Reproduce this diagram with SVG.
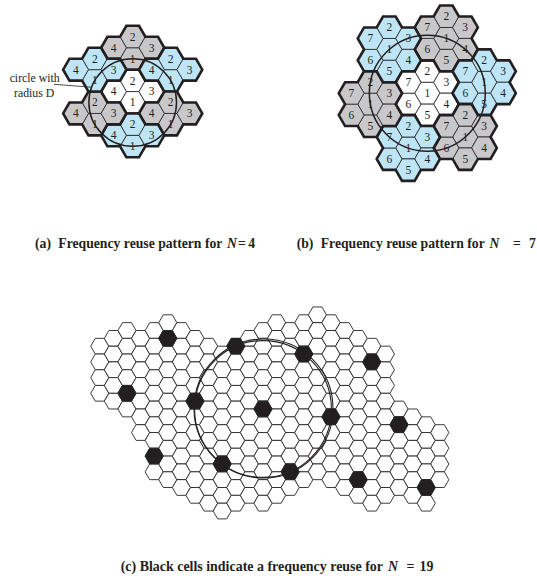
<svg xmlns="http://www.w3.org/2000/svg" xmlns:xlink="http://www.w3.org/1999/xlink" width="537" height="578" viewBox="0 0 537 578">
<style>
.t{stroke:#231f20;stroke-width:.8}
.k{fill:none;stroke:#231f20;stroke-width:2.6}
.n{font-family:"Liberation Serif","Times New Roman",serif;font-size:11.5px;fill:#231f20;text-anchor:middle}
.lb{font-family:"Liberation Serif","Times New Roman",serif;font-size:11.8px;fill:#231f20;text-anchor:middle}
.cap{font-family:"Liberation Serif","Times New Roman",serif;font-size:13.7px;font-weight:bold;fill:#231f20}
.capc{font-family:"Liberation Serif","Times New Roman",serif;font-size:13.95px;font-weight:bold;fill:#231f20}
.ring{fill:none;stroke:#231f20;stroke-width:1.5}
.ring2{fill:none;stroke:#231f20;stroke-width:1.1}
</style>
<defs>
<path id="h" d="M12.65 0L6.325 10.955H-6.325L-12.65 0L-6.325-10.955H6.325Z"/>
<path id="o4" d="M-6.325 10.955H6.325L12.65 0H25.3L31.625-10.955L25.3-21.91H12.65L6.325-32.865H-6.325L-12.65-21.91H-25.3L-31.625-10.955L-25.3 0H-12.65Z"/>
<path id="o7" d="M-6.325-32.865H6.325L12.65-21.91H25.3L31.625-10.955L25.3 0L31.625 10.955L25.3 21.91H12.65L6.325 32.865H-6.325L-12.65 21.91H-25.3L-31.625 10.955L-25.3 0L-31.625-10.955L-25.3-21.91H-12.65Z"/>
<g id="c4">
<use href="#h" class="t"/>
<use href="#h" class="t" y="-21.91"/>
<use href="#h" class="t" x="18.975" y="-10.955"/>
<use href="#h" class="t" x="-18.975" y="-10.955"/>
<use href="#o4" class="k"/>
<text class="n" y="3.9">1</text>
<text class="n" y="-18">2</text>
<text class="n" x="18.975" y="-7.05">3</text>
<text class="n" x="-18.975" y="-7.05">4</text>
</g>
<g id="c7">
<use href="#h" class="t"/>
<use href="#h" class="t" y="-21.91"/>
<use href="#h" class="t" x="18.975" y="-10.955"/>
<use href="#h" class="t" x="18.975" y="10.955"/>
<use href="#h" class="t" y="21.91"/>
<use href="#h" class="t" x="-18.975" y="10.955"/>
<use href="#h" class="t" x="-18.975" y="-10.955"/>
<use href="#o7" class="k"/>
<text class="n" y="3.9">1</text>
<text class="n" y="-18">2</text>
<text class="n" x="18.975" y="-7.05">3</text>
<text class="n" x="18.975" y="14.86">4</text>
<text class="n" y="25.8">5</text>
<text class="n" x="-18.975" y="14.86">6</text>
<text class="n" x="-18.975" y="-7.05">7</text>
</g>
<path id="s" d="M9.07 0L4.535 7.85H-4.535L-9.07 0L-4.535-7.85H4.535Z"/>
<g id="k2"><use href="#s"/><use href="#s" y="15.7"/></g>
<g id="k4"><use href="#k2"/><use href="#k2" y="31.4"/></g>
<g id="k5"><use href="#k4"/><use href="#s" y="62.8"/></g>
<g id="k6"><use href="#k4"/><use href="#k2" y="62.8"/></g>
<g id="k7"><use href="#k6"/><use href="#s" y="94.2"/></g>
<g id="k10"><use href="#k6"/><use href="#k4" y="94.2"/></g>
<g id="k11"><use href="#k10"/><use href="#s" y="157"/></g>
<g id="k12"><use href="#k10"/><use href="#k2" y="157"/></g>
</defs>
<rect width="537" height="578" fill="#fff"/>

<g id="panel-a">
<use id="a-center" href="#c4" fill="#fff" x="132.7" y="102.5"/>
<use id="a-n" href="#c4" fill="#c8c8ca" x="132.7" y="58.68"/>
<use id="a-ne" href="#c4" fill="#bde5f6" x="170.65" y="80.59"/>
<use id="a-se" href="#c4" fill="#c8c8ca" x="170.65" y="124.41"/>
<use id="a-s" href="#c4" fill="#bde5f6" x="132.7" y="146.32"/>
<use id="a-sw" href="#c4" fill="#c8c8ca" x="94.75" y="124.41"/>
<use id="a-nw" href="#c4" fill="#bde5f6" x="94.75" y="80.59"/>
<circle class="ring" cx="132.7" cy="102.5" r="43.82"/>
<line x1="54" y1="84.3" x2="91.5" y2="87.2" stroke="#231f20" stroke-width=".8"/>
<text class="lb" x="34.7" y="82.3">circle with</text>
<text class="lb" x="34.2" y="96.5">radius D</text>
</g>

<g id="panel-b">
<use id="b-center" href="#c7" fill="#fff" x="427.3" y="93.2"/>
<use id="b-n" href="#c7" fill="#c8c8ca" x="446.275" y="38.425"/>
<use id="b-e" href="#c7" fill="#bde5f6" x="484.225" y="82.245"/>
<use id="b-se" href="#c7" fill="#c8c8ca" x="465.25" y="137.02"/>
<use id="b-s" href="#c7" fill="#bde5f6" x="408.325" y="147.975"/>
<use id="b-w" href="#c7" fill="#c8c8ca" x="370.375" y="104.155"/>
<use id="b-nw" href="#c7" fill="#bde5f6" x="389.35" y="49.38"/>
<circle class="ring" cx="427.3" cy="93.2" r="57.97"/>
</g>

<g id="captions">
<text class="cap" x="35" y="248.3">(a)<tspan x="58.3">Frequency reuse pattern for</tspan><tspan x="227" font-style="italic">N</tspan><tspan x="238">=</tspan><tspan x="248.3">4</tspan></text>
<text class="cap" x="296.7" y="248.3">(b)<tspan x="320.7">Frequency reuse pattern for</tspan><tspan x="489.5" font-style="italic">N</tspan><tspan x="513">=</tspan><tspan x="529">7</tspan></text>
<text class="capc" x="120.7" y="571">(c) Black cells indicate a frequency reuse for<tspan x="388" font-style="italic">N</tspan><tspan x="406.5">=</tspan><tspan x="419.5">19</tspan></text>
</g>

<g id="panel-c" fill="#fff" stroke="#262626" stroke-width=".9">
<use href="#k4" x="99.8" y="346.2"/>
<use href="#k5" x="113.4" y="338.35"/>
<use href="#k6" x="127" y="330.5"/>
<use href="#k7" x="140.6" y="338.35"/>
<use href="#k10" x="154.2" y="330.5"/>
<use href="#k11" x="167.8" y="322.65"/>
<use href="#k11" x="181.4" y="330.5"/>
<use href="#k11" x="195" y="338.35"/>
<use href="#k11" x="208.6" y="346.2"/>
<use href="#k11" x="222.2" y="354.05"/>
<use href="#k11" x="235.8" y="346.2"/>
<use href="#k11" x="249.4" y="338.35"/>
<use href="#k12" x="263" y="330.5"/>
<use href="#k12" x="276.6" y="322.65"/>
<use href="#k11" x="290.2" y="330.5"/>
<use href="#k11" x="303.8" y="322.65"/>
<use href="#k11" x="317.4" y="314.8"/>
<use href="#k11" x="331" y="322.65"/>
<use href="#k11" x="344.6" y="330.5"/>
<use href="#k11" x="358.2" y="338.35"/>
<use href="#k11" x="371.8" y="346.2"/>
<use href="#k10" x="385.4" y="354.05"/>
<use href="#k6" x="399" y="409"/>
<use href="#k6" x="412.6" y="416.85"/>
<use href="#k6" x="426.2" y="424.7"/>
<use href="#k4" x="439.8" y="432.55"/>
<g id="black-cells" fill="#231f20">
<use href="#s" x="167.8" y="338.35"/>
<use href="#s" x="235.8" y="346.2"/>
<use href="#s" x="303.8" y="354.05"/>
<use href="#s" x="371.8" y="361.9"/>
<use href="#s" x="127" y="393.3"/>
<use href="#s" x="195" y="401.15"/>
<use href="#s" x="263" y="409"/>
<use href="#s" x="331" y="416.85"/>
<use href="#s" x="399" y="424.7"/>
<use href="#s" x="154.2" y="456.1"/>
<use href="#s" x="222.2" y="463.95"/>
<use href="#s" x="290.2" y="471.8"/>
<use href="#s" x="358.2" y="479.65"/>
<use href="#s" x="426.2" y="487.5"/>
</g>
<circle class="ring2" cx="263" cy="409" r="68.4"/>
<circle class="ring2" cx="263.5" cy="408.5" r="69.5"/>
</g>
</svg>
